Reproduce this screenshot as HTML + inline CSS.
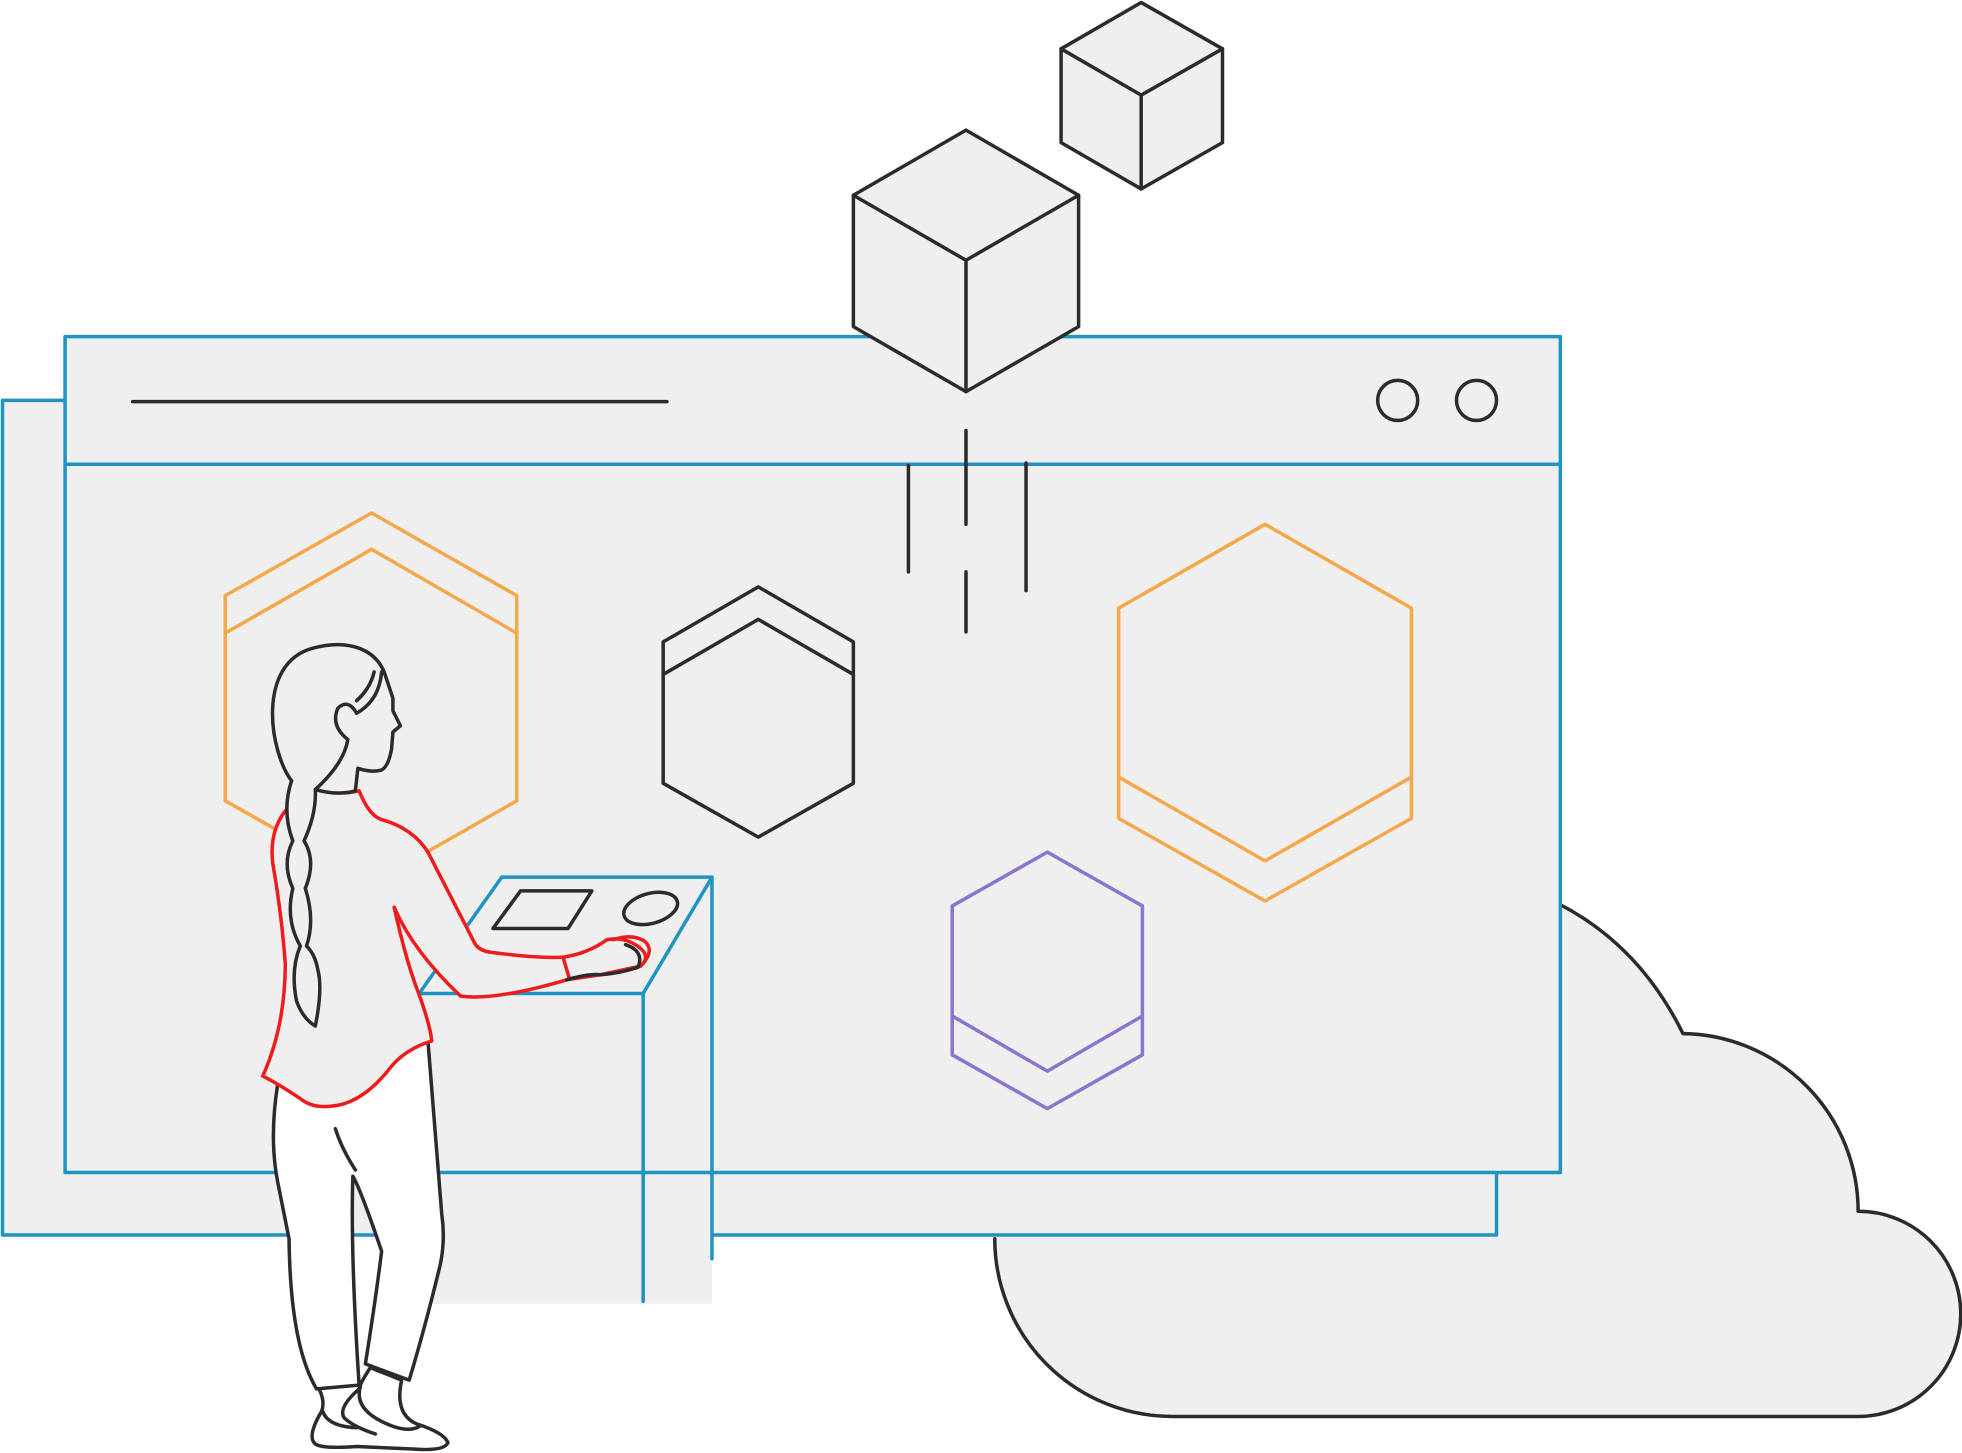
<!DOCTYPE html>
<html><head><meta charset="utf-8"><style>
html,body{margin:0;padding:0;background:#fff;}
svg{display:block;}
</style></head><body>
<svg width="1962" height="1453" viewBox="0 0 1568 1161.2" xmlns="http://www.w3.org/2000/svg" fill="none" stroke-linejoin="round" stroke-linecap="round">
<path d="M795 990 A142 142 0 0 0 937 1132 L1485 1132 A82 82 0 0 0 1485 968 A142 142 0 0 0 1345 826 Q1310 755 1245 722 L1100 722 L795 990 Z" fill="#efefef" stroke="none"/>
<path d="M795 990 A142 142 0 0 0 937 1132 L1485 1132 A82 82 0 0 0 1485 968 A142 142 0 0 0 1345 826 Q1310 755 1245 722" stroke="#2b2b2b" stroke-width="2.8"/>
<rect x="2" y="320" width="1194" height="667" fill="#efefef" stroke="#1f93c2" stroke-width="2.8"/>
<rect x="335" y="930" width="234" height="112" fill="#efefef"/>
<rect x="52" y="269" width="1195" height="668" fill="#efefef" stroke="#1f93c2" stroke-width="2.8"/>
<line x1="52" y1="371" x2="1247" y2="371" stroke="#1f93c2" stroke-width="2.8"/>
<line x1="106" y1="321" x2="533" y2="321" stroke="#2b2b2b" stroke-width="2.8"/>
<circle cx="1117" cy="320" r="16" stroke="#2b2b2b" stroke-width="2.8"/>
<circle cx="1180" cy="320" r="16" stroke="#2b2b2b" stroke-width="2.8"/>
<g stroke="#2b2b2b" stroke-width="2.8" fill="#efefef">
<path d="M772 104 L862 156 L862 261 L772 313 L682 261 L682 156 Z"/>
<path d="M682 156 L772 208 L862 156 M772 208 L772 313" fill="none"/>
<path d="M912 2 L977 39 L977 114 L912 151 L848 114 L848 39 Z"/>
<path d="M848 39 L912 76 L977 39 M912 76 L912 151" fill="none"/>
</g>
<g stroke="#2b2b2b" stroke-width="2.8">
<line x1="726" y1="372" x2="726" y2="457"/>
<line x1="772" y1="344" x2="772" y2="419"/>
<line x1="772" y1="457" x2="772" y2="505"/>
<line x1="820" y1="370" x2="820" y2="472"/>
</g>
<g stroke-width="2.8">
<path d="M297 410 L413 476 L413 640 L297 706 L180 640 L180 476 Z M180 506 L297 439 L413 506" stroke="#f5a84a"/>
<path d="M606 469 L682 513 L682 626 L606 669 L530 626 L530 513 Z M530 539 L606 495 L682 539" stroke="#2b2b2b"/>
<path d="M1011 419 L1128 486 L1128 654 L1011 720 L894 654 L894 486 Z M894 621 L1011 688 L1128 621" stroke="#f5a84a"/>
<path d="M837 681 L913 724 L913 843 L837 886 L761 843 L761 724 Z M761 812 L837 856 L913 812" stroke="#8a74d0"/>
</g>
<path d="M401 701 L569 701 L514 794 L335 794 Z" fill="#efefef" stroke="#1f93c2" stroke-width="2.8"/>
<path d="M514 794 L514 1040 M569 701 L569 1006" stroke="#1f93c2" stroke-width="2.8"/>
<path d="M416 712 L473 712 L454 742 L394 742 Z" stroke="#2b2b2b" stroke-width="2.8"/>
<ellipse cx="520" cy="726" rx="22" ry="12" transform="rotate(-15 520 726)" stroke="#2b2b2b" stroke-width="2.8"/>
<g stroke-width="2.8">
<path d="M222 866 Q215 910 222 945 L231 990 Q232 1075 253 1110 L287 1107 Q280 1000 282 940 Q288 950 305 1000 Q300 1040 292 1090 L327 1103 Q340 1060 352 1010 Q356 990 353 970 L342 832 Z" fill="#fff" stroke="#2b2b2b"/>
<path d="M268 902 Q273 918 284 935" stroke="#2b2b2b"/>
<path d="M255 1110 Q260 1120 257 1128 Q245 1148 252 1154 Q258 1158 285 1156 L330 1158 Q355 1160 358 1153 Q355 1145 333 1138 Q315 1130 321 1103 L296 1093 Q288 1105 287 1110 Q270 1125 275 1133 Q282 1140 300 1146" fill="#fff" stroke="#2b2b2b"/>
<path d="M258 1128 Q262 1140 285 1141 M288 1108 Q283 1125 305 1136 Q325 1146 335 1140" stroke="#2b2b2b"/>
<path d="M252 631 Q270 636 287 632 Q295 652 305 655 Q330 662 342 681 L380 755 Q384 760 392 761 Q430 766 450 765 Q470 762 485 751 Q500 748 512 758 Q520 765 512 772 L480 779 L453 783 Q395 800 368 796 Q330 760 315 725 Q325 770 335 795 Q344 820 345 832 Q325 838 313 852 Q290 882 265 884 Q250 886 240 878 Q222 866 210 860 Q228 820 228 770 Q225 730 218 690 Q215 665 228 648 Z" fill="#efefef" stroke="#ee1c1c"/>
<path d="M450 765 L455 782 M490 751 Q505 746 515 752 Q524 760 512 772" stroke="#ee1c1c"/>
<path d="M453 783 Q470 778 480 779 Q495 778 510 773 Q515 760 500 755" stroke="#2b2b2b"/>
<path d="M233 624 C215 600 205 530 250 518 C280 510 300 520 307 537 L314 558 L314 568 L320 580 L314 585 L313 598 Q310 616 302 616 Q295 617 286 614 L284 632 Q270 636 252 631 Q275 610 278 591 Q264 580 270 566 Q278 558 285 570 Q303 560 305 537" fill="#efefef" stroke="#2b2b2b"/>
<path d="M299 537 Q296 550 285 560" stroke="#2b2b2b"/>
<path d="M233 624 Q225 648 234 672 Q225 690 234 710 Q228 735 240 756 Q232 775 237 800 Q242 814 252 820 Q258 790 254 775 Q252 763 245 756 Q252 735 244 710 Q253 688 243 672 Q253 650 252 631" fill="#efefef" stroke="#2b2b2b"/>
</g>
</svg>
</body></html>
